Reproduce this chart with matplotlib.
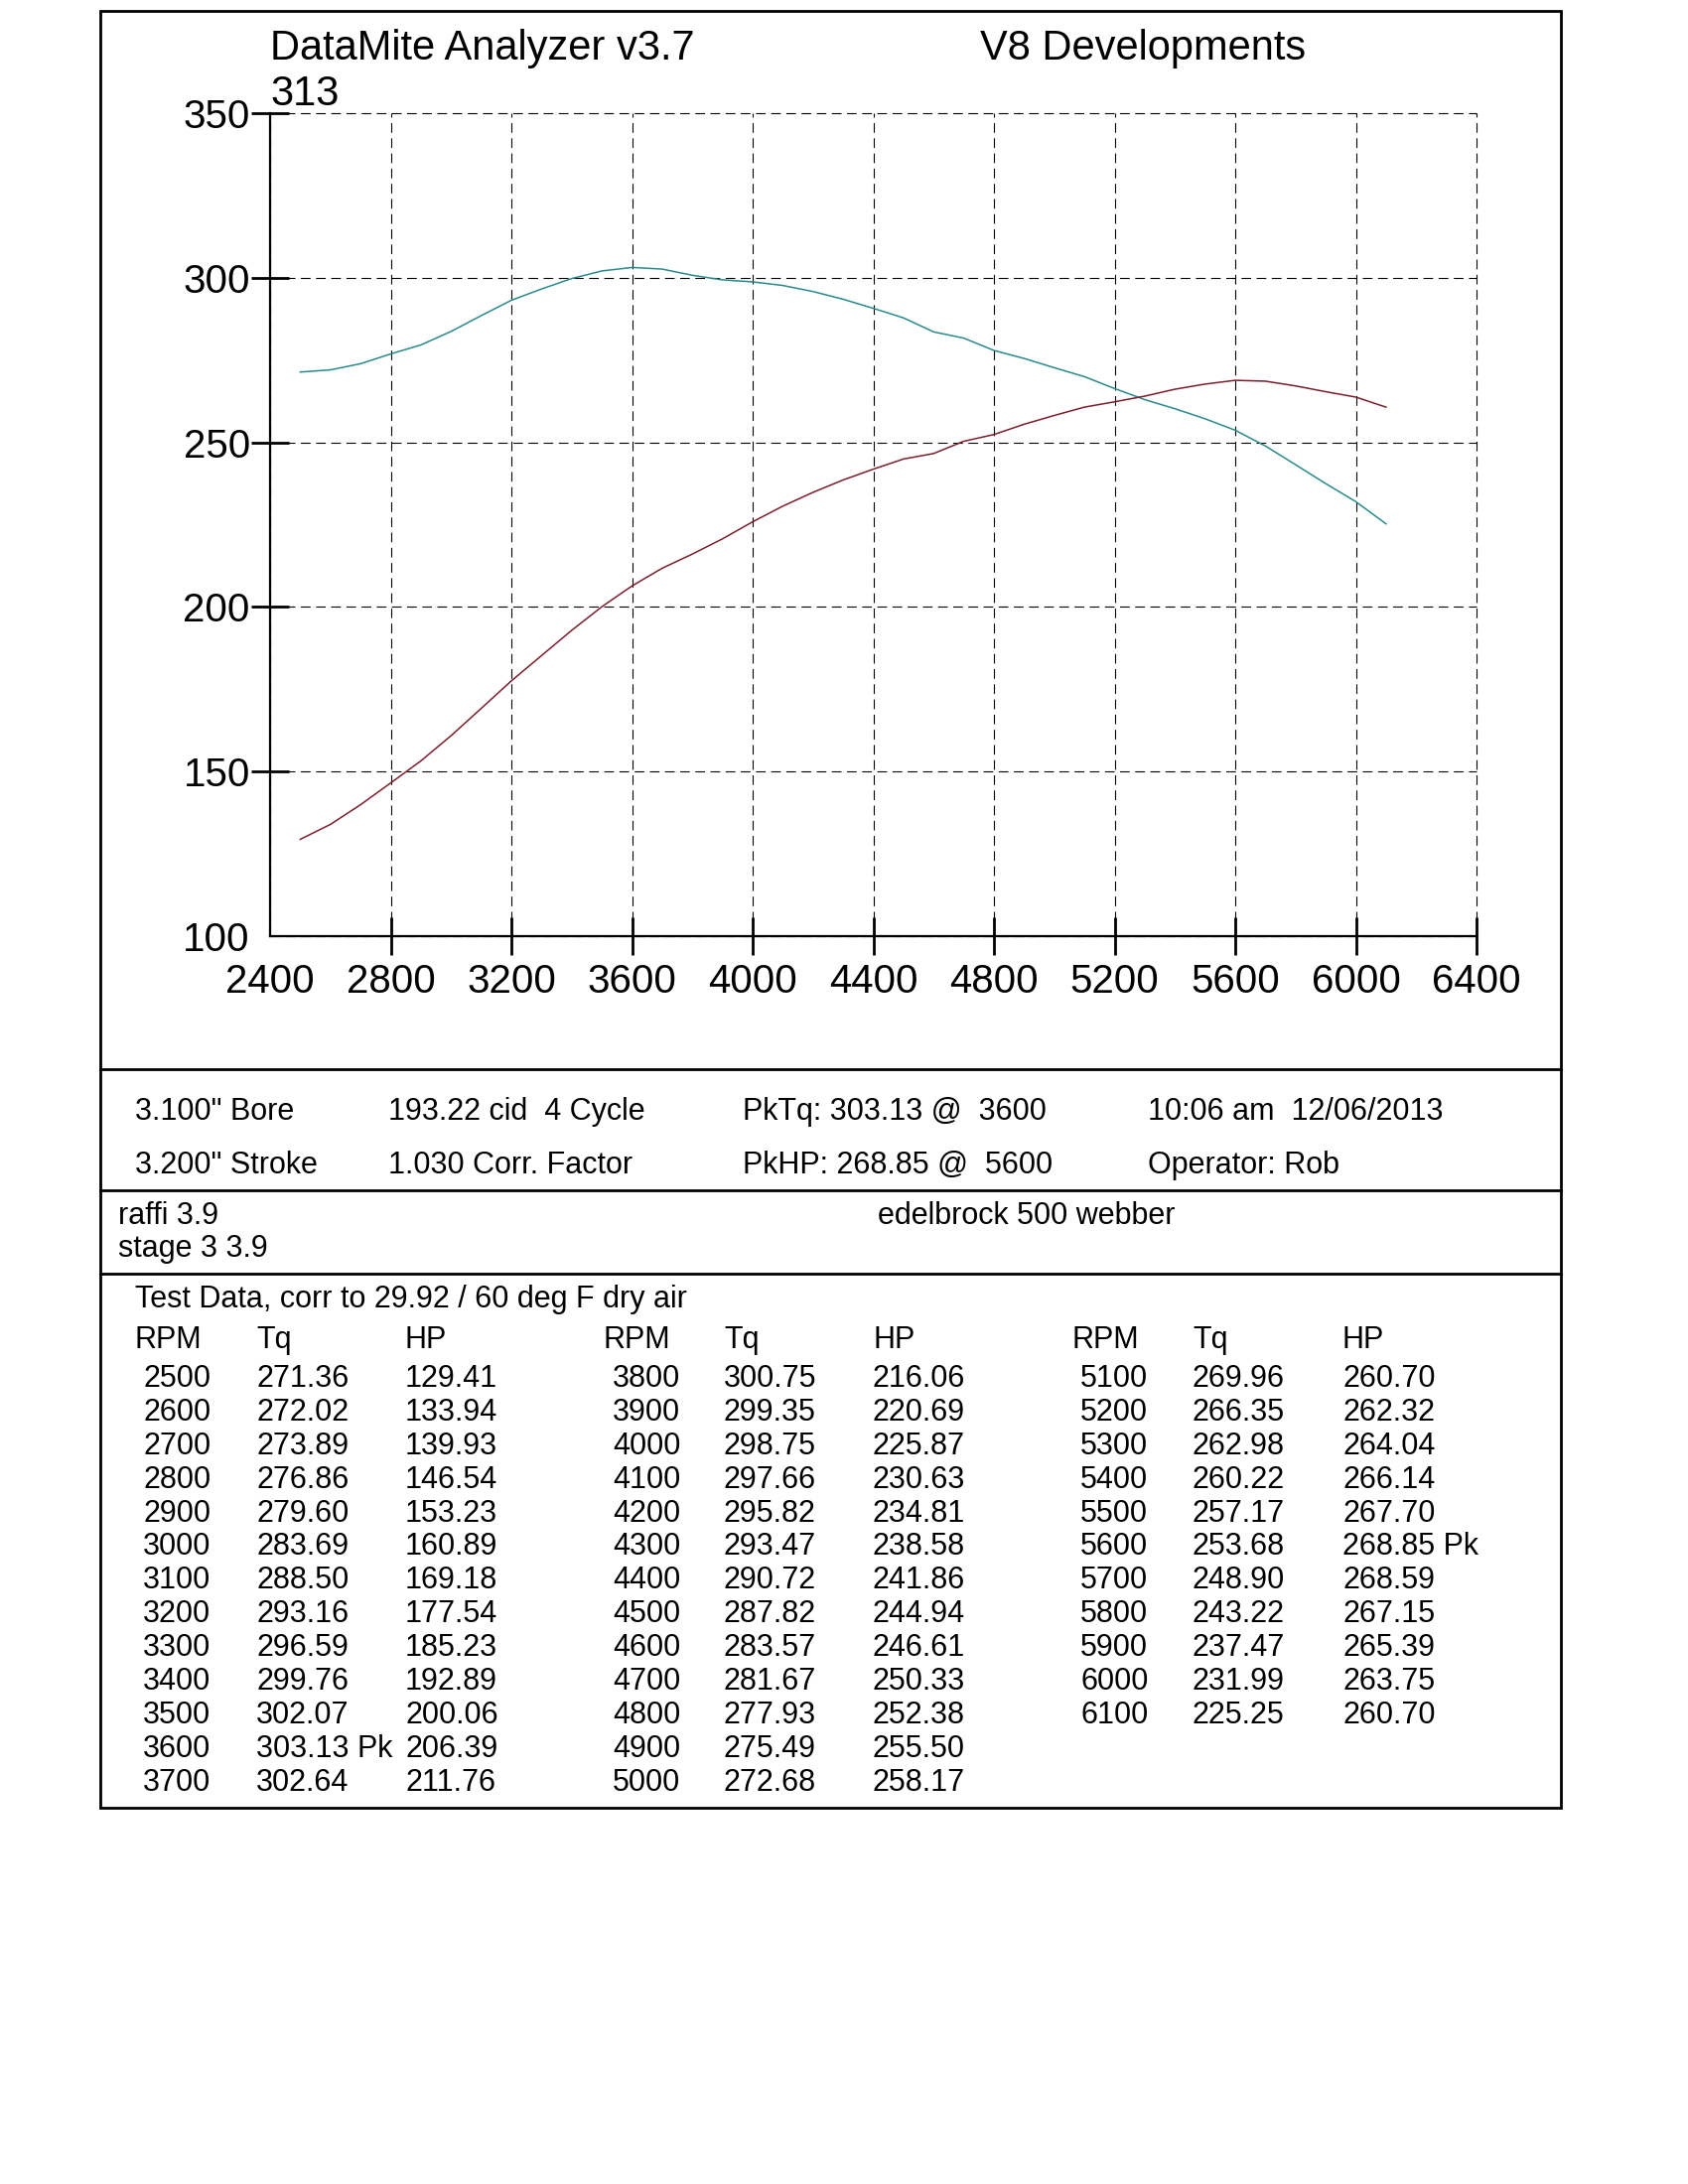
import matplotlib
matplotlib.use("Agg")
import matplotlib.pyplot as plt
from matplotlib.lines import Line2D
from matplotlib.patches import Rectangle

plt.rcParams["font.family"] = ["Liberation Sans", "DejaVu Sans"]
plt.rcParams["lines.scale_dashes"] = False

# ======================================================
# Data (dyno run)
# ======================================================
rpm = [2500, 2600, 2700, 2800, 2900, 3000, 3100, 3200, 3300, 3400, 3500, 3600, 3700,
       3800, 3900, 4000, 4100, 4200, 4300, 4400, 4500, 4600, 4700, 4800, 4900, 5000,
       5100, 5200, 5300, 5400, 5500, 5600, 5700, 5800, 5900, 6000, 6100]
torque = [271.36, 272.02, 273.89, 276.86, 279.60, 283.69, 288.50, 293.16, 296.59, 299.76,
          302.07, 303.13, 302.64, 300.75, 299.35, 298.75, 297.66, 295.82, 293.47, 290.72,
          287.82, 283.57, 281.67, 277.93, 275.49, 272.68, 269.96, 266.35, 262.98, 260.22,
          257.17, 253.68, 248.90, 243.22, 237.47, 231.99, 225.25]
hp = [129.41, 133.94, 139.93, 146.54, 153.23, 160.89, 169.18, 177.54, 185.23, 192.89,
      200.06, 206.39, 211.76, 216.06, 220.69, 225.87, 230.63, 234.81, 238.58, 241.86,
      244.94, 246.61, 250.33, 252.38, 255.50, 258.17, 260.70, 262.32, 264.04, 266.14,
      267.70, 268.85, 268.59, 267.15, 265.39, 263.75, 260.70]

x_ticks = [2400, 2800, 3200, 3600, 4000, 4400, 4800, 5200, 5600, 6000, 6400]
y_ticks = [100, 150, 200, 250, 300, 350]

title_left = "DataMite Analyzer v3.7"
title_right = "V8 Developments"
engine_label = "313"
info_row1 = ['3.100" Bore', "193.22 cid  4 Cycle", None, "10:06 am  12/06/2013"]
info_row2 = ['3.200" Stroke', "1.030 Corr. Factor", None, "Operator: Rob"]
notes_left = ["raffi 3.9", "stage 3 3.9"]
notes_right = "edelbrock 500 webber"
table_title = "Test Data, corr to 29.92 / 60 deg F dry air"
rows_per_group = [13, 13, 11]

TQ_COLOR = "#2b8a8c"
HP_COLOR = "#7d1f2c"

W, H = 1700, 2200


def fx(px):
    return px / W


def fy(py):
    return 1 - py / H


fig = plt.figure(figsize=(17, 22), dpi=100)

# ======================================================
# Chart
# ======================================================
ax = fig.add_axes([fx(272), fy(943), fx(1487) - fx(272), (943 - 114) / H])
ax.plot(rpm, torque, color=TQ_COLOR, lw=1.1)
ax.plot(rpm, hp, color=HP_COLOR, lw=1.1)
ax.set_xlim(2400, 6400)
ax.set_ylim(100, 350)
ax.set_xticks(x_ticks)
ax.set_yticks(y_ticks)
ax.grid(True, color="black", lw=0.8, linestyle=(0, (7, 4)))
for s in ["top", "right"]:
    ax.spines[s].set_visible(False)
for s in ["left", "bottom"]:
    ax.spines[s].set_linewidth(1.6)
ax.tick_params(direction="inout", length=27, width=2, labelsize=29)
ax.tick_params(axis="x", pad=6)
ax.tick_params(axis="y", pad=1)
ax.xaxis.get_major_ticks()[0].tick1line.set_visible(False)
ax.yaxis.get_major_ticks()[0].tick1line.set_visible(False)
for gl in ax.get_xgridlines() + ax.get_ygridlines():
    gl.set_clip_on(False)

fig.text(fx(272), fy(60), title_left, fontsize=30, va="baseline")
fig.text(fx(987), fy(60), title_right, fontsize=30, va="baseline")
fig.text(fx(272), fy(106), engine_label, fontsize=30, va="baseline")

# ======================================================
# Frame and separators
# ======================================================
fig.patches.append(Rectangle((fx(101), fy(1821)), fx(1572) - fx(101), (1821 - 11) / H,
                             transform=fig.transFigure, fill=False, lw=2, ec="black"))
for sep in [1077, 1199, 1283]:
    fig.lines.append(Line2D([fx(101), fx(1572)], [fy(sep), fy(sep)],
                            transform=fig.transFigure, color="black", lw=2))

# ======================================================
# Info block
# ======================================================
i_tq = max(range(len(torque)), key=lambda i: torque[i])
i_hp = max(range(len(hp)), key=lambda i: hp[i])
info_row1[2] = f"PkTq: {torque[i_tq]:.2f} @  {rpm[i_tq]}"
info_row2[2] = f"PkHP: {hp[i_hp]:.2f} @  {rpm[i_hp]}"
info_x = [136, 391, 748, 1156]
fs = 22
for x, t in zip(info_x, info_row1):
    fig.text(fx(x), fy(1128), t, fontsize=fs, va="baseline")
for x, t in zip(info_x, info_row2):
    fig.text(fx(x), fy(1182), t, fontsize=fs, va="baseline")

fig.text(fx(119), fy(1233), notes_left[0], fontsize=fs, va="baseline")
fig.text(fx(119), fy(1266), notes_left[1], fontsize=fs, va="baseline")
fig.text(fx(884), fy(1233), notes_right, fontsize=fs, va="baseline")

# ======================================================
# Data table
# ======================================================
fig.text(fx(136), fy(1317), table_title, fontsize=fs, va="baseline")
group_cols = [(136, 144, 258, 408), (607, 617, 729, 879), (1080, 1088, 1201, 1352)]
row0, row_step = 1397, 33.9
start = 0
for (hx, rx, tx, px), n in zip(group_cols, rows_per_group):
    fig.text(fx(hx), fy(1358), "RPM", fontsize=fs, va="baseline")
    fig.text(fx(tx), fy(1358), "Tq", fontsize=fs, va="baseline")
    fig.text(fx(px), fy(1358), "HP", fontsize=fs, va="baseline")
    for k in range(n):
        i = start + k
        yb = fy(row0 + k * row_step)
        tq_s = f"{torque[i]:.2f}" + (" Pk" if i == i_tq else "")
        hp_s = f"{hp[i]:.2f}" + (" Pk" if i == i_hp else "")
        fig.text(fx(rx), yb, f"{rpm[i]}", fontsize=fs, va="baseline")
        fig.text(fx(tx), yb, tq_s, fontsize=fs, va="baseline")
        fig.text(fx(px), yb, hp_s, fontsize=fs, va="baseline")
    start += n

fig.savefig("out.png", dpi=100, facecolor="white")
